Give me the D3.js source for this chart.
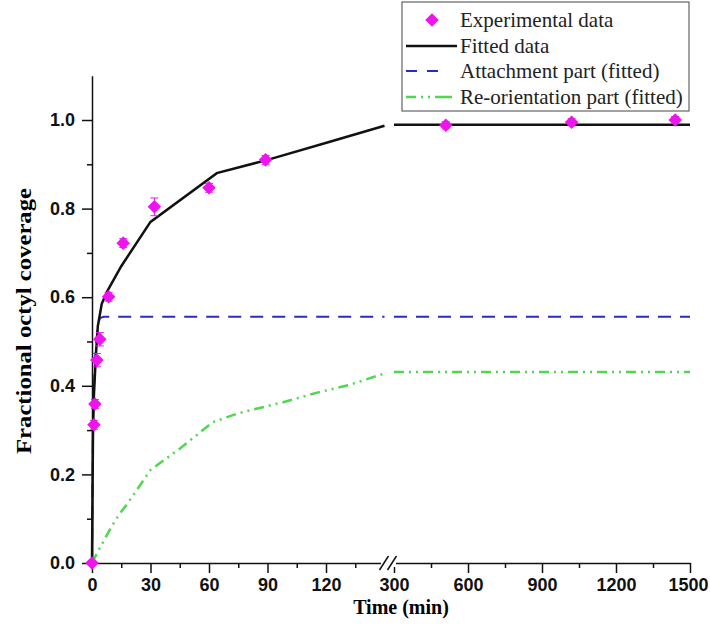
<!DOCTYPE html>
<html>
<head>
<meta charset="utf-8">
<script src="https://cdn.jsdelivr.net/npm/d3@7"></script>
<style>
body { margin: 0; background: #fff; }
.tick text { font-family: "Liberation Sans", Arial, sans-serif; font-weight: bold; font-size: 18px; fill: #111; }
.tick line, .domain { stroke: #111; stroke-width: 1.5; }
</style>
</head>
<body>
<svg width="710" height="634"></svg>
<script>
// experimental points (time in min, coverage, error)
var expTime = [0, 1, 1.5, 2.5, 4, 8.5, 16, 32, 60, 89, 510, 1020, 1440];
var expCov  = [0, 0.312, 0.359, 0.458, 0.505, 0.601, 0.722, 0.804, 0.847, 0.91, 0.988, 0.995, 1.0];
var expErr  = [0, 0.01, 0.01, 0.015, 0.015, 0.01, 0.01, 0.02, 0.01, 0.01, 0.008, 0.008, 0.008];

// fitted curve
var fitTime = [0, 0.5, 1, 2, 3, 5, 8, 15, 30, 64, 90, 122, 150, 300, 1500];
var fitCov  = [0, 0.29, 0.38, 0.47, 0.535, 0.585, 0.615, 0.67, 0.77, 0.88, 0.91, 0.951, 0.987, 0.989, 0.989];

// attachment part
var attTime = [0, 0.5, 1, 2, 3, 4, 6, 150, 300, 1500];
var attCov  = [0, 0.3, 0.4, 0.49, 0.535, 0.553, 0.556, 0.556, 0.556, 0.556];

// re-orientation part
var reoTime = [0, 4, 10, 14, 18, 30, 45, 62, 75, 98, 115, 132, 150, 300, 1500];
var reoCov  = [0, 0.034, 0.082, 0.11, 0.133, 0.21, 0.258, 0.318, 0.338, 0.363, 0.384, 0.402, 0.428, 0.431, 0.431];

var yTicks = [0, 0.2, 0.4, 0.6, 0.8, 1.0];
var yMinor = [0.1, 0.3, 0.5, 0.7, 0.9];
var x1Ticks = [0, 30, 60, 90, 120];
var x1Minor = [15, 45, 75, 105, 135];
var x2Ticks = [300, 600, 900, 1200, 1500];
var x2Minor = [450, 750, 1050, 1350];

var legendLabels = ["Experimental data", "Fitted data", "Attachment part (fitted)", "Re-orientation part (fitted)"];

var pink = "#ee14ee", blue = "#2a2ac8", green = "#4fd84f";
var serif = "'Liberation Serif', 'Times New Roman', serif";

var svg = d3.select("svg");

var x1 = d3.scaleLinear().domain([0, 150]).range([92, 384.5]);
var x2 = d3.scaleLinear().domain([300, 1500]).range([394, 690]);
var y = d3.scaleLinear().domain([0, 1.1]).range([563, 75.7]);

function pts(ts, vs) {
  return ts.map(function(t, i) { return {t: t, v: vs[i]}; });
}

// axes
svg.append("g").attr("transform", "translate(92,0)")
  .call(d3.axisLeft(y).tickValues(yTicks).tickSize(10).tickPadding(7).tickSizeOuter(0).tickFormat(d3.format(".1f")));
svg.append("g").attr("transform", "translate(92,0)")
  .call(d3.axisLeft(y).tickValues(yMinor).tickSize(5).tickFormat(""))
  .select(".domain").remove();

function xAxis(sc, major, minor) {
  var g = svg.append("g").attr("transform", "translate(0,563)")
    .call(d3.axisBottom(sc).tickValues(major).tickSize(10).tickPadding(5).tickSizeOuter(0).tickFormat(d3.format("d")));
  svg.append("g").attr("transform", "translate(0,563)")
    .call(d3.axisBottom(sc).tickValues(minor).tickSize(5).tickFormat(""))
    .select(".domain").remove();
  return g;
}
xAxis(x1, x1Ticks, x1Minor);
var gx2 = xAxis(x2, x2Ticks, x2Minor);
gx2.selectAll(".tick text").filter(function(d) { return d === 1500; }).attr("dx", "-2");

// axis break
svg.append("rect").attr("x", 381).attr("y", 559).attr("width", 15).attr("height", 8).attr("fill", "#fff");
[384, 392].forEach(function(cx) {
  svg.append("line").attr("x1", cx - 4.5).attr("y1", 570).attr("x2", cx + 4.5).attr("y2", 556)
    .attr("stroke", "#111").attr("stroke-width", 1.5);
});

// series drawn per axis segment
function drawSeries(ts, vs, style) {
  var all = pts(ts, vs);
  [[x1, all.filter(function(d) { return d.t <= 150; })],
   [x2, all.filter(function(d) { return d.t >= 300; })]].forEach(function(seg) {
    var sc = seg[0];
    var line = d3.line().x(function(d) { return sc(d.t); }).y(function(d) { return y(d.v); });
    svg.append("path").datum(seg[1])
      .attr("d", line)
      .attr("fill", "none")
      .attr("stroke", style.color)
      .attr("stroke-width", style.width)
      .attr("stroke-dasharray", style.dash || null);
  });
}

drawSeries(reoTime, reoCov, {color: green, width: 2.5, dash: "10,5,2,5,2,5"});
drawSeries(attTime, attCov, {color: blue, width: 2, dash: "13,9"});
drawSeries(fitTime, fitCov, {color: "#111", width: 2.5});

// experimental points with error bars
var exp = expTime.map(function(t, i) { return {t: t, v: expCov[i], e: expErr[i]}; });
function ex(d) { return d.t <= 150 ? x1(d.t) : x2(d.t); }

var eb = svg.append("g").selectAll("g").data(exp).enter().append("g");
eb.append("line")
  .attr("x1", ex).attr("x2", ex)
  .attr("y1", function(d) { return y(d.v + d.e); })
  .attr("y2", function(d) { return y(d.v - d.e); })
  .attr("stroke", pink).attr("stroke-width", 1);
eb.selectAll(".cap").data(function(d) { return [[d, d.v + d.e], [d, d.v - d.e]]; })
  .enter().append("line")
  .attr("x1", function(c) { return ex(c[0]) - 4; })
  .attr("x2", function(c) { return ex(c[0]) + 4; })
  .attr("y1", function(c) { return y(c[1]); })
  .attr("y2", function(c) { return y(c[1]); })
  .attr("stroke", pink).attr("stroke-width", 1);

var diamond = d3.symbol().type(d3.symbolSquare).size(92);
svg.append("g").selectAll("path").data(exp).enter().append("path")
  .attr("d", diamond)
  .attr("transform", function(d) { return "translate(" + ex(d) + "," + y(d.v) + ") rotate(45)"; })
  .attr("fill", pink);

// axis titles
svg.append("text")
  .attr("x", 401).attr("y", 614)
  .attr("text-anchor", "middle")
  .style("font-family", serif)
  .style("font-weight", "bold").style("font-size", "20px")
  .text("Time (min)");

svg.append("text")
  .attr("transform", "translate(31,321) rotate(-90)")
  .attr("text-anchor", "middle")
  .attr("textLength", 266).attr("lengthAdjust", "spacingAndGlyphs")
  .style("font-family", serif)
  .style("font-weight", "bold").style("font-size", "21px")
  .text("Fractional octyl coverage");

// legend
var lg = svg.append("g");
lg.append("rect").attr("x", 402).attr("y", 2).attr("width", 287).attr("height", 109)
  .attr("fill", "#fff").attr("stroke", "#444").attr("stroke-width", 1);
var rowY = [20, 46, 71, 97];
legendLabels.forEach(function(lab, i) {
  lg.append("text").attr("x", 460).attr("y", rowY[i]).attr("dy", "0.35em")
    .style("font-family", serif)
    .style("font-size", "21px").attr("fill", "#222")
    .text(lab);
});
lg.append("path").attr("d", diamond)
  .attr("transform", "translate(432," + rowY[0] + ") rotate(45)").attr("fill", pink);
lg.append("line").attr("x1", 406).attr("x2", 457).attr("y1", rowY[1]).attr("y2", rowY[1])
  .attr("stroke", "#111").attr("stroke-width", 2.5);
lg.append("line").attr("x1", 406).attr("x2", 440).attr("y1", rowY[2]).attr("y2", rowY[2])
  .attr("stroke", blue).attr("stroke-width", 2).attr("stroke-dasharray", "11,10");
lg.append("line").attr("x1", 406).attr("x2", 452).attr("y1", rowY[3]).attr("y2", rowY[3])
  .attr("stroke", green).attr("stroke-width", 2.5).attr("stroke-dasharray", "10,5,2,5,2,5,20");
</script>
</body>
</html>
